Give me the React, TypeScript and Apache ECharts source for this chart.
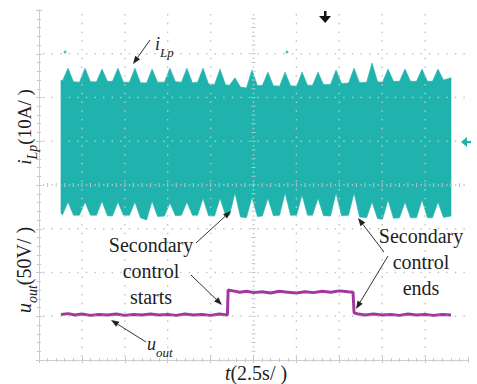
import React, { useEffect, useRef } from "react";
import * as echarts from "echarts";

// time in seconds (2.5 s/div), vertical in screen divisions (0..8)
const envT = [1.28,
  1.37, 1.69, 2.01, 2.36, 2.68, 3.0, 3.35, 3.67, 3.99, 4.28, 4.6, 4.92, 5.27, 5.59, 5.91,
  6.27, 6.59, 6.91, 7.31, 7.63, 7.95, 8.3, 8.62, 8.94, 9.24, 9.56, 9.88, 10.23, 10.55, 10.87,
  11.1, 11.42, 11.74, 12.09, 12.41, 12.73, 13.02, 13.34, 13.66, 14.02, 14.34, 14.66, 15.01, 15.33, 15.65,
  15.94, 16.26, 16.58, 16.99, 17.31, 17.63, 18.04, 18.36, 18.68, 19.09, 19.41, 19.73, 20.02, 20.34, 20.66,
  21.01, 21.33, 21.65, 22.0, 22.32, 22.64, 22.93, 23.25, 23.57,
  24.01];
const iLpUpper = [6.4,
  6.38, 6.67, 6.36, 6.35, 6.67, 6.36, 6.36, 6.65, 6.37, 6.37, 6.67, 6.35, 6.35, 6.67, 6.34,
  6.33, 6.65, 6.35, 6.35, 6.67, 6.36, 6.35, 6.67, 6.34, 6.35, 6.67, 6.31, 6.3, 6.65, 6.29,
  6.28, 6.45, 6.24, 6.22, 6.63, 6.27, 6.28, 6.58, 6.27, 6.26, 6.58, 6.27, 6.26, 6.58, 6.28,
  6.28, 6.58, 6.3, 6.3, 6.63, 6.32, 6.33, 6.67, 6.34, 6.35, 6.79, 6.36, 6.35, 6.65, 6.37,
  6.37, 6.65, 6.37, 6.37, 6.65, 6.37, 6.37, 6.65, 6.4,
  6.45];
const iLpLower = [3.35,
  3.32, 3.61, 3.31, 3.31, 3.61, 3.31, 3.31, 3.63, 3.3, 3.29, 3.61, 3.31, 3.31, 3.61, 3.25,
  3.2, 3.63, 3.28, 3.29, 3.59, 3.3, 3.31, 3.61, 3.31, 3.31, 3.7, 3.3, 3.29, 3.7, 3.31,
  3.31, 3.82, 3.27, 3.25, 3.72, 3.28, 3.29, 3.7, 3.3, 3.31, 3.82, 3.31, 3.31, 3.77, 3.31,
  3.31, 3.7, 3.3, 3.29, 3.82, 3.3, 3.31, 3.82, 3.27, 3.25, 3.61, 3.23, 3.22, 3.66, 3.24,
  3.25, 3.61, 3.25, 3.25, 3.66, 3.25, 3.25, 3.61, 3.26,
  3.29];
const iLpDots = [[1.52, 7.04], [14.45, 7.04]];

const uoutT = [1.28, 1.7, 2.1, 2.5, 3.0, 3.5, 4.0, 4.5, 5.0, 5.5, 6.0, 6.5, 7.0, 7.5, 8.0, 8.5, 9.0, 9.5, 10.0, 10.5, 10.98, 11.02, 11.3, 11.7, 12.1, 12.5, 13.0, 13.5, 14.0, 14.5, 15.0, 15.5, 16.0, 16.5, 17.0, 17.5, 18.0, 18.3, 18.36, 18.6, 19.0, 19.5, 20.0, 20.5, 21.0, 21.5, 22.0, 22.5, 23.0, 23.5, 24.01];
const uoutV = [1.04, 1.06, 1.03, 1.05, 1.02, 1.04, 1.03, 1.05, 1.02, 1.04, 1.03, 1.05, 1.03, 1.04, 1.02, 1.05, 1.03, 1.04, 1.02, 1.05, 1.03, 1.6, 1.58, 1.55, 1.57, 1.54, 1.56, 1.53, 1.57, 1.55, 1.53, 1.56, 1.54, 1.57, 1.55, 1.58, 1.56, 1.55, 1.08, 1.05, 1.03, 1.05, 1.03, 1.04, 1.02, 1.05, 1.03, 1.04, 1.02, 1.04, 1.03];

// graticule divisions
const xDivs = [2.5, 5, 7.5, 10, 12.5, 15, 17.5, 20, 22.5];
const yDivs = [1, 2, 3, 4, 5, 6, 7];

const TEAL = "#20b3ad";
const PURPLE = "#a2389e";
const FONT = "'Liberation Serif', 'Times New Roman', serif";
const INK = "#1e1e1e";

function arrow(x1: number, y1: number, x2: number, y2: number) {
  const ang = Math.atan2(y2 - y1, x2 - x1);
  const L = 8, W = 3;
  const bx = x2 - L * Math.cos(ang), by = y2 - L * Math.sin(ang);
  const px = -Math.sin(ang) * W, py = Math.cos(ang) * W;
  return [
    { type: "line", shape: { x1, y1, x2: bx, y2: by }, style: { stroke: "#333", lineWidth: 1 }, z: 20 },
    { type: "polygon", shape: { points: [[x2, y2], [bx + px, by + py], [bx - px, by - py]] }, style: { fill: "#222" }, z: 20 },
  ];
}

const mkRich = (size: number, lh: number, subLh: number) => ({
  n: { fontFamily: FONT, fontSize: size, lineHeight: lh, verticalAlign: "middle", fill: INK },
  i: { fontFamily: FONT, fontSize: size, fontStyle: "italic", lineHeight: lh, verticalAlign: "middle", fill: INK },
  s: { fontFamily: FONT, fontSize: Math.round(size * 0.72), fontStyle: "italic", lineHeight: subLh, verticalAlign: "bottom", fill: INK },
});

export default function App() {
  const ref = useRef<HTMLDivElement>(null);
  useEffect(() => {
    if (!ref.current) return;
    const chart = echarts.init(ref.current, undefined, { renderer: "svg" });
    const gridColor = "#c2c2c2";
    const axisCommon = {
      type: "value",
      axisLabel: { show: false },
      axisLine: { show: true, lineStyle: { color: "#cfcfcf", width: 1 } },
      axisTick: { show: true, inside: true, length: 3, lineStyle: { color: "#c8c8c8" } },
      minorTick: { show: true, splitNumber: 5, length: 2, lineStyle: { color: "#c8c8c8" } },
      splitLine: { show: false },
    };
    const option: any = {
      animation: false,
      backgroundColor: "#fff",
      grid: { left: 39, top: 10, width: 429, height: 350, containLabel: false },
      xAxis: [
        { ...axisCommon, position: "bottom", min: 0, max: 25, interval: 2.5 },
        { ...axisCommon, position: "top", min: 0, max: 25, interval: 2.5 },
      ],
      yAxis: [
        { ...axisCommon, position: "left", min: 0, max: 8, interval: 1 },
        { ...axisCommon, position: "right", min: 0, max: 8, interval: 1 },
      ],
      series: [
        {
          name: "iLp", type: "custom", z: 2,
          data: [[envT[0], iLpUpper[0]]],
          renderItem: (params: any, api: any) => {
            const pts: number[][] = [];
            for (let k = 0; k < envT.length; k++) pts.push(api.coord([envT[k], iLpUpper[k]]));
            for (let k = envT.length - 1; k >= 0; k--) pts.push(api.coord([envT[k], iLpLower[k]]));
            return { type: "polygon", shape: { points: pts }, style: { fill: TEAL, stroke: TEAL, lineWidth: 0.6 } };
          },
        },
        {
          name: "iLpDots", type: "scatter", data: iLpDots, symbolSize: 3,
          itemStyle: { color: TEAL }, z: 2,
        },
        {
          name: "uout", type: "line", symbol: "none",
          data: uoutT.map((t, k) => [t, uoutV[k]]),
          lineStyle: { color: PURPLE, width: 3 }, z: 3,
        },
        {
          name: "graticule", type: "custom", z: 6, silent: true,
          data: [[0, 0]],
          renderItem: (params: any, api: any) => {
            const children: any[] = [];
            for (const x of xDivs) {
              const a = api.coord([x, 8]), b = api.coord([x, 0]);
              children.push({ type: "line", shape: { x1: a[0], y1: a[1] + 4, x2: b[0], y2: b[1] },
                style: { stroke: gridColor, lineWidth: 1.4, lineDash: [1.4, 7.35] } });
            }
            for (const y of yDivs) {
              const a = api.coord([0, y]), b = api.coord([25, y]);
              children.push({ type: "line", shape: { x1: a[0] + 4, y1: a[1], x2: b[0], y2: b[1] },
                style: { stroke: gridColor, lineWidth: 1.4, lineDash: [1.4, 7.18] } });
            }
            // centre-line minor ticks
            const c = api.coord([12.5, 4]);
            for (let k = 1; k < 40; k++) {
              const p = api.coord([12.5, k * 0.2]);
              children.push({ type: "line", shape: { x1: c[0] - 2, y1: p[1], x2: c[0] + 2, y2: p[1] },
                style: { stroke: gridColor, lineWidth: 1 } });
            }
            for (let k = 1; k < 50; k++) {
              const p = api.coord([k * 0.5, 4]);
              children.push({ type: "line", shape: { x1: p[0], y1: c[1] - 2, x2: p[0], y2: c[1] + 2 },
                style: { stroke: gridColor, lineWidth: 1 } });
            }
            return { type: "group", children };
          },
        },
      ],
      graphic: [
        // trigger marker
        { type: "rect", shape: { x: 324, y: 11, width: 2.5, height: 7 }, style: { fill: "#111" }, z: 20 },
        { type: "polygon", shape: { points: [[319, 16], [331, 16], [325.2, 23]] }, style: { fill: "#111" }, z: 20 },
        // channel marker
        { type: "polygon", shape: { points: [[461, 142], [467, 137], [467, 147]] }, style: { fill: TEAL }, z: 20 },
        { type: "rect", shape: { x: 466, y: 141, width: 5, height: 2.2 }, style: { fill: TEAL }, z: 20 },
        // axis labels
        { type: "text", x: 24, y: 127, rotation: Math.PI / 2, z: 20,
          style: { text: "{i|i}{s|Lp}{n|(10A/ )}", rich: mkRich(19, 30, 9), align: "center", verticalAlign: "middle" } },
        { type: "text", x: 24, y: 270, rotation: Math.PI / 2, z: 20,
          style: { text: "{i|u}{s|out}{n|(50V/ )}", rich: mkRich(20, 30, 9), align: "center", verticalAlign: "middle" } },
        { type: "text", x: 256, y: 373, z: 20,
          style: { text: "{i|t}{n|(2.5s/ )}", rich: mkRich(20, 20, 1), align: "center", verticalAlign: "middle" } },
        // trace labels
        { type: "text", x: 155, y: 44, z: 20,
          style: { text: "{i|i}{s|Lp}", rich: mkRich(18, 30, 9), align: "left", verticalAlign: "middle" } },
        { type: "text", x: 147, y: 344, z: 20,
          style: { text: "{i|u}{s|out}", rich: mkRich(18, 30, 9), align: "left", verticalAlign: "middle" } },
        // annotations
        { type: "text", x: 151, y: 271, z: 20,
          style: { text: "Secondary\ncontrol\nstarts", font: `20px ${FONT}`, lineHeight: 26, fill: INK, align: "center", verticalAlign: "middle" } },
        { type: "text", x: 421, y: 262, z: 20,
          style: { text: "Secondary\ncontrol\nends", font: `20px ${FONT}`, lineHeight: 26, fill: INK, align: "center", verticalAlign: "middle" } },
        ...arrow(150, 40, 133, 64),
        ...arrow(196, 243, 231, 211),
        ...arrow(191, 275, 222, 305),
        ...arrow(384, 252, 358, 218),
        ...arrow(388, 256, 356, 309),
        ...arrow(146, 342, 111, 320),
      ],
    };
    chart.setOption(option);
    return () => chart.dispose();
  }, []);
  return <div ref={ref} style={{ position: "absolute", left: 0, top: 0, width: 477, height: 384 }} />;
}
